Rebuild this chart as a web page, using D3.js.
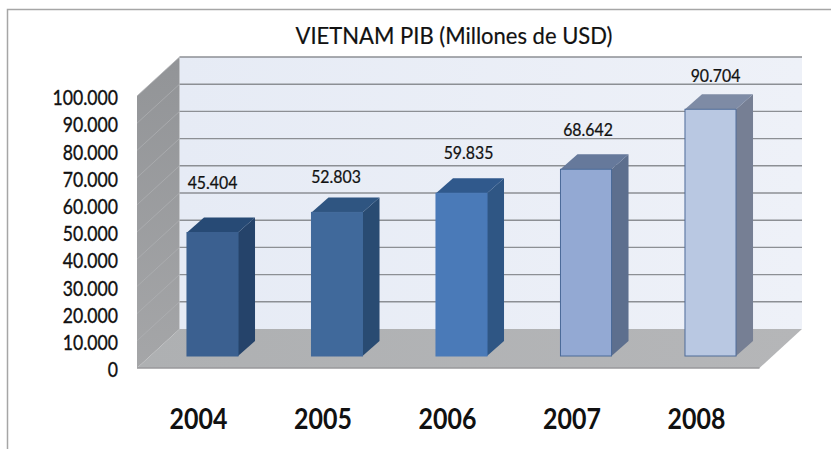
<!DOCTYPE html>
<html>
<head>
<meta charset="utf-8">
<script src="https://cdn.jsdelivr.net/npm/d3@7"></script>
<style>
    html, body { margin: 0; padding: 0; background: #fff; overflow: hidden; }
    text { font-family: Lato, "Open Sans", sans-serif; fill: #111; }
    .domain { display: none; }
</style>
</head>
<body>
<svg id="chart" width="831" height="449"></svg>
<script>
const years = ["2004", "2005", "2006", "2007", "2008"];
const pib = [45404, 52803, 59835, 68642, 90704];
const pib_labels = ["45.404", "52.803", "59.835", "68.642", "90.704"];
const y_ticks = [0, 10000, 20000, 30000, 40000, 50000, 60000, 70000, 80000, 90000, 100000];
const chart_title = "VIETNAM PIB (Millones de USD)";

// bar colours: front, side, top, outline
const bar_front = ["#3b6090", "#40699b", "#4a7ab8", "#93a9d3", "#b9c8e2"];
const bar_side = ["#25436a", "#294b72", "#2f5684", "#5d6f8e", "#767f94"];
const bar_top = ["#274a75", "#2f5581", "#30598c", "#66799b", "#7e8ba5"];
const bar_edge = ["#3b6090", "#40699b", "#4a7ab8", "#4a6a98", "#4f6c98"];

// label nudges, the original labels were placed by hand
const label_dx = [0, -1, 7, 2, 5];
const label_dy = [-44, -29, -34, -33, -27];

// depth of the chart box and of the bars
const wall_dx = 42.5, wall_dy = -39;
const bar_dx = 17, bar_dy = -15;

const svg = d3.select("#chart");

// scales are for the front plane of the bars
const x_scale = d3.scaleBand()
    .domain(years)
    .range([150.25, 772.75])
    .paddingInner(0.59)
    .paddingOuter(0.295);

const y_scale = d3.scaleLinear()
    .domain([0, 100000])
    .range([356, 84]);

// front edge of the box sits 12px below the bar plane
const front_shift = 12;
const wall_left = 137, wall_right = 759.5;
const y_front = v => y_scale(v) + front_shift;
const y_back = v => y_front(v) + wall_dy;

const poly = pts => pts.map(p => p.join(",")).join(" ");

// gradients
const defs = svg.append("defs");
function addGradient(id, c0, c1, vertical){
    const g = defs.append("linearGradient").attr("id", id);
    if(vertical) g.attr("x2", "0%").attr("y2", "100%");
    g.append("stop").attr("offset", "0%").attr("stop-color", c0);
    g.append("stop").attr("offset", "100%").attr("stop-color", c1);
}
addGradient("grad_wall", "#e6ebf5", "#eef1f8", false);
addGradient("grad_side", "#929497", "#a5a6a8", true);
addGradient("grad_floor", "#aeb0b2", "#b5b6b8", false);

// frame, only top and left edges show in the picture
svg.append("path")
    .attr("d", "M831,9.5H7.5V449")
    .attr("fill", "none")
    .attr("stroke", "#a6a6a6")
    .attr("stroke-width", 1.5);

// back wall
svg.append("rect")
    .attr("x", wall_left + wall_dx)
    .attr("y", y_back(100000))
    .attr("width", wall_right - wall_left)
    .attr("height", y_back(0) - y_back(100000))
    .attr("fill", "url(#grad_wall)");

// side wall
svg.append("polygon")
    .attr("points", poly([
        [wall_left, y_front(100000)],
        [wall_left + wall_dx, y_back(100000)],
        [wall_left + wall_dx, y_back(0)],
        [wall_left, y_front(0)]
    ]))
    .attr("fill", "url(#grad_side)");

// gridlines on both walls
const grid_ticks = y_ticks.filter(d => d > 0);
svg.selectAll(".grid-back").data(grid_ticks).enter().append("line")
    .attr("class", "grid-back")
    .attr("x1", wall_left + wall_dx)
    .attr("x2", wall_right + wall_dx)
    .attr("y1", d => y_back(d))
    .attr("y2", d => y_back(d))
    .attr("stroke", "#8c8f94")
    .attr("stroke-width", 1.4);
svg.selectAll(".grid-side").data(grid_ticks).enter().append("line")
    .attr("class", "grid-side")
    .attr("x1", wall_left)
    .attr("x2", wall_left + wall_dx)
    .attr("y1", d => y_front(d))
    .attr("y2", d => y_back(d))
    .attr("stroke", "#b0b2b4")
    .attr("stroke-width", 0.7);

// floor
svg.append("polygon")
    .attr("points", poly([
        [wall_left, y_front(0)],
        [wall_left + wall_dx, y_back(0)],
        [wall_right + wall_dx, y_back(0)],
        [wall_right, y_front(0)]
    ]))
    .attr("fill", "url(#grad_floor)");
svg.append("line")
    .attr("x1", wall_left).attr("x2", wall_right)
    .attr("y1", y_front(0)).attr("y2", y_front(0))
    .attr("stroke", "#98999b")
    .attr("stroke-width", 1.5);

// bars
const bars = svg.selectAll(".bar").data(years).enter().append("g").attr("class", "bar");
const bw = x_scale.bandwidth();

bars.append("polygon")
    .attr("points", (d, i) => {
        const x1 = x_scale(d) + bw;
        return poly([
            [x1, y_scale(pib[i])],
            [x1 + bar_dx, y_scale(pib[i]) + bar_dy],
            [x1 + bar_dx, y_scale(0) + bar_dy],
            [x1, y_scale(0)]
        ]);
    })
    .attr("fill", (d, i) => bar_side[i]);

bars.append("polygon")
    .attr("points", (d, i) => {
        const x0 = x_scale(d), y0 = y_scale(pib[i]);
        return poly([
            [x0, y0],
            [x0 + bar_dx, y0 + bar_dy],
            [x0 + bw + bar_dx, y0 + bar_dy],
            [x0 + bw, y0]
        ]);
    })
    .attr("fill", (d, i) => bar_top[i]);

bars.append("rect")
    .attr("x", d => x_scale(d))
    .attr("y", (d, i) => y_scale(pib[i]))
    .attr("width", bw)
    .attr("height", (d, i) => y_scale(0) - y_scale(pib[i]))
    .attr("fill", (d, i) => bar_front[i])
    .attr("stroke", (d, i) => bar_edge[i])
    .attr("stroke-width", 1);

// Lato is wider than the font in the picture, so squeeze it a little
const squeeze = (x, y, sx) => "translate(" + x + "," + y + ") scale(" + sx + ",1)";

// value labels
svg.selectAll(".value-label").data(years).enter().append("text")
    .attr("class", "value-label")
    .attr("transform", (d, i) => squeeze(x_scale(d) + bw / 2 + label_dx[i], y_scale(pib[i]) + label_dy[i], 0.88))
    .attr("text-anchor", "middle")
    .style("font-size", "18px")
    .style("stroke", "#111")
    .style("stroke-width", "0.25px")
    .text((d, i) => pib_labels[i]);

// Y axis, dots as thousands separator
const y_axis = d3.axisLeft(d3.scaleLinear().domain([0, 100000]).range([y_front(0), y_front(100000)]))
    .tickValues(y_ticks)
    .tickSize(0)
    .tickPadding(0)
    .tickFormat(d => d3.format(",")(d).replace(",", "."));
svg.append("g")
    .attr("transform", "translate(118,2)")
    .call(y_axis)
    .selectAll("text")
    .attr("transform", "scale(0.84,1)")
    .style("font-size", "21px")
    .style("font-family", "Lato, sans-serif")
    .style("stroke", "#111")
    .style("stroke-width", "0.35px");

// X axis labels sit left of the bars
const x_axis = d3.axisBottom(x_scale).tickSize(0).tickPadding(0);
svg.append("g")
    .attr("transform", "translate(-14,409)")
    .call(x_axis)
    .selectAll("text")
    .attr("transform", "scale(0.89,1)")
    .style("font-size", "28px")
    .style("font-weight", "700")
    .style("font-family", "Lato, sans-serif");

// title
svg.append("text")
    .attr("transform", squeeze(454, 43.5, 0.917))
    .attr("text-anchor", "middle")
    .style("font-size", "24px")
    .style("stroke", "#111")
    .style("stroke-width", "0.2px")
    .text(chart_title);
</script>
</body>
</html>
